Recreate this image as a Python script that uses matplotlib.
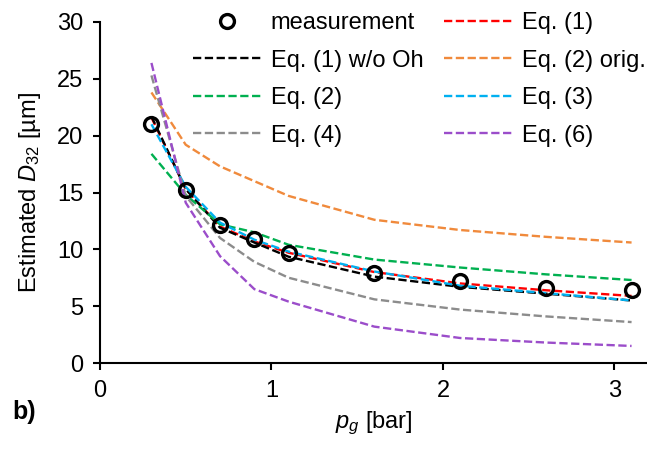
import matplotlib.pyplot as plt

plt.rcParams['font.family'] = ['Liberation Sans', 'DejaVu Sans']
plt.rcParams['mathtext.fontset'] = 'custom'
plt.rcParams['mathtext.rm'] = 'Liberation Sans'
plt.rcParams['mathtext.it'] = 'Liberation Sans:italic'
plt.rcParams['mathtext.default'] = 'it'

# gas pressure [bar]
p_g = [0.3, 0.5, 0.7, 0.9, 1.1, 1.6, 2.1, 2.6, 3.1]

# D32 [um]
measurement = [21.0, 15.2, 12.1, 10.9, 9.7, 7.9, 7.2, 6.6, 6.4]
eq1 = [21.6, 15.3, 12.0, 10.7, 9.7, 8.0, 7.0, 6.4, 5.9]
eq1_wo_oh = [21.7, 15.3, 11.9, 10.6, 9.35, 7.6, 6.7, 6.1, 5.5]
eq2_orig = [23.8, 19.2, 17.3, 16.0, 14.7, 12.6, 11.7, 11.1, 10.6]
eq2 = [18.4, 14.8, 12.2, 11.5, 10.4, 9.1, 8.4, 7.8, 7.3]
eq3 = [21.0, 15.5, 12.35, 10.85, 9.8, 8.05, 6.8, 6.15, 5.5]
eq4 = [25.3, 14.7, 11.0, 8.9, 7.5, 5.6, 4.7, 4.1, 3.6]
eq6 = [26.4, 14.1, 9.4, 6.5, 5.4, 3.2, 2.2, 1.8, 1.5]

FS = 17

fig = plt.figure(figsize=(6.47, 4.59), dpi=100)
ax = fig.add_axes([100 / 647, 96 / 459, 547 / 647, 341 / 459])

dash = (3.5, 1.5)
lw = 1.7
h_eq1, = ax.plot(p_g, eq1, color='#FF0000', lw=lw, dashes=dash, label='Eq. (1)')
h_eq1wo, = ax.plot(p_g, eq1_wo_oh, color='#000000', lw=lw, dashes=dash, label='Eq. (1) w/o Oh')
h_eq2o, = ax.plot(p_g, eq2_orig, color='#F08A3C', lw=lw, dashes=dash, label='Eq. (2) orig.')
h_eq2, = ax.plot(p_g, eq2, color='#00B050', lw=lw, dashes=dash, label='Eq. (2)')
h_eq3, = ax.plot(p_g, eq3, color='#00B0F0', lw=lw, dashes=dash, label='Eq. (3)')
h_eq4, = ax.plot(p_g, eq4, color='#8C8C8C', lw=lw, dashes=dash, label='Eq. (4)')
h_eq6, = ax.plot(p_g, eq6, color='#9B4DCA', lw=lw, dashes=dash, label='Eq. (6)')
h_meas, = ax.plot(p_g, measurement, 'o', ms=10, mew=2.4, mfc='none', mec='black',
                  label='measurement', zorder=5)

ax.set_xlim(0, 3.19)
ax.set_ylim(0, 30)
ax.set_xticks([0, 1, 2, 3])
ax.set_yticks(range(0, 31, 5))
ax.spines['top'].set_visible(False)
ax.spines['right'].set_visible(False)
for s in ('left', 'bottom'):
    ax.spines[s].set_linewidth(1.5)
ax.tick_params(direction='out', length=5, width=1.5, labelsize=FS, pad=7)

ax.set_xlabel('$p_g$ [bar]', fontsize=FS, labelpad=6)
ax.set_ylabel('Estimated $D_{32}$ [µm]', fontsize=FS, labelpad=10)
fig.text(12 / 647, 1 - 412 / 459, 'b)', fontsize=FS + 1, fontweight='bold', va='center')

handles = [h_meas, h_eq1wo, h_eq2, h_eq4, h_eq1, h_eq2o, h_eq3, h_eq6]
ax.legend(handles=handles, labels=[h.get_label() for h in handles], ncol=2,
          frameon=False, fontsize=FS, loc='upper left',
          bbox_to_anchor=(193 / 647, 1 - 12 / 459), bbox_transform=fig.transFigure,
          borderpad=0, borderaxespad=0, handlelength=2.9, handletextpad=0.4,
          columnspacing=0.85, labelspacing=0.66)

plt.savefig('out.png', dpi=100)
